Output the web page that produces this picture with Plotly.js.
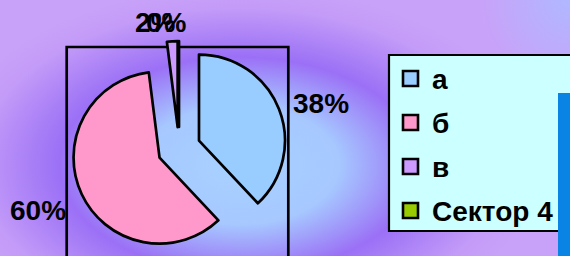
<!DOCTYPE html>
<html>
<head>
<meta charset="utf-8">
<script src="https://cdn.plot.ly/plotly-3.0.1.min.js"></script>
<style>
  html, body { margin:0; padding:0; }
  body {
    width:570px; height:256px; overflow:hidden; position:relative;
    background:
      radial-gradient(circle 90px at 570px 0px, rgba(176,184,255,1), rgba(176,184,255,0)),
      radial-gradient(ellipse 300px 180px at 240px 165px, #a8d2ff 0%, #a6c8ff 33%, #9b70f6 60%, #c49cf8 88%, #c8a2f8 100%);
  }
  #chart { position:absolute; left:0; top:0; width:570px; height:256px; }
  #bar { position:absolute; left:558px; top:93px; width:12px; height:163px; background:#0a84e4; z-index:10; }
</style>
</head>
<body>
<div id="chart"></div>
<div id="bar"></div>
<script>
// ---- data ----
const labels = ['а', 'б', 'в', 'Сектор 4'];
const values = [38, 60, 2, 0];
const colors = ['#99ccff', '#ff99cc', '#cc99ff', '#99cc00'];

// ---- layout helpers ----
const W = 570, H = 256;
const px = x => x / W;
const py = y => 1 - y / H;
const total = values.reduce((a, b) => a + b, 0);
const pctText = values.map(v => Math.round(v / total * 100) + '%');

const font = { family: 'Liberation Sans, Arial, sans-serif', color: '#000000', weight: 'bold' };

const trace = {
  type: 'pie',
  labels: labels,
  values: values,
  sort: false,
  direction: 'clockwise',
  rotation: 0,
  pull: 0.25,
  textinfo: 'none',
  hoverinfo: 'none',
  marker: { colors: colors, line: { color: '#000000', width: 2.7 } },
  domain: { x: [px(70.5), px(287.5)], y: [py(258), py(41)] }
};

// label positions (pixel centers) for each slice's percent label
const labelPos = [[321, 103], [38, 210], [155, 22], [166, 22]];
const annotations = pctText.map((t, i) => ({
  text: t, xref: 'paper', yref: 'paper',
  x: px(labelPos[i][0]), y: py(labelPos[i][1]),
  xanchor: 'center', yanchor: 'middle', showarrow: false,
  font: Object.assign({ size: 28 }, font)
}));

const shapes = [
  // plot-area frame
  { type: 'rect', xref: 'paper', yref: 'paper', layer: 'below',
    x0: px(66.7), x1: px(288.3), y0: py(270), y1: py(47),
    line: { color: '#000000', width: 2.7 }, fillcolor: 'rgba(0,0,0,0)' },
  // legend box
  { type: 'rect', xref: 'paper', yref: 'paper', layer: 'above',
    x0: px(389), x1: px(600), y0: py(231), y1: py(55),
    line: { color: '#000000', width: 2.2 }, fillcolor: '#ccffff' }
];

labels.forEach((lab, i) => {
  const cy = 78.5 + i * 44;
  shapes.push({ type: 'rect', xref: 'paper', yref: 'paper', layer: 'above',
    x0: px(403), x1: px(418), y0: py(cy + 7.5), y1: py(cy - 7.5),
    line: { color: '#000000', width: 2.6 }, fillcolor: colors[i] });
  annotations.push({ text: lab, xref: 'paper', yref: 'paper',
    x: px(430), y: py(cy + 1), xanchor: 'left', yanchor: 'middle', showarrow: false,
    font: Object.assign({ size: 28 }, font) });
});

const layout = {
  width: W, height: H,
  margin: { l: 0, r: 0, t: 0, b: 0 },
  paper_bgcolor: 'rgba(0,0,0,0)',
  plot_bgcolor: 'rgba(0,0,0,0)',
  showlegend: false,
  shapes: shapes,
  annotations: annotations
};

Plotly.newPlot('chart', [trace], layout, { displayModeBar: false, staticPlot: true });
</script>
</body>
</html>
